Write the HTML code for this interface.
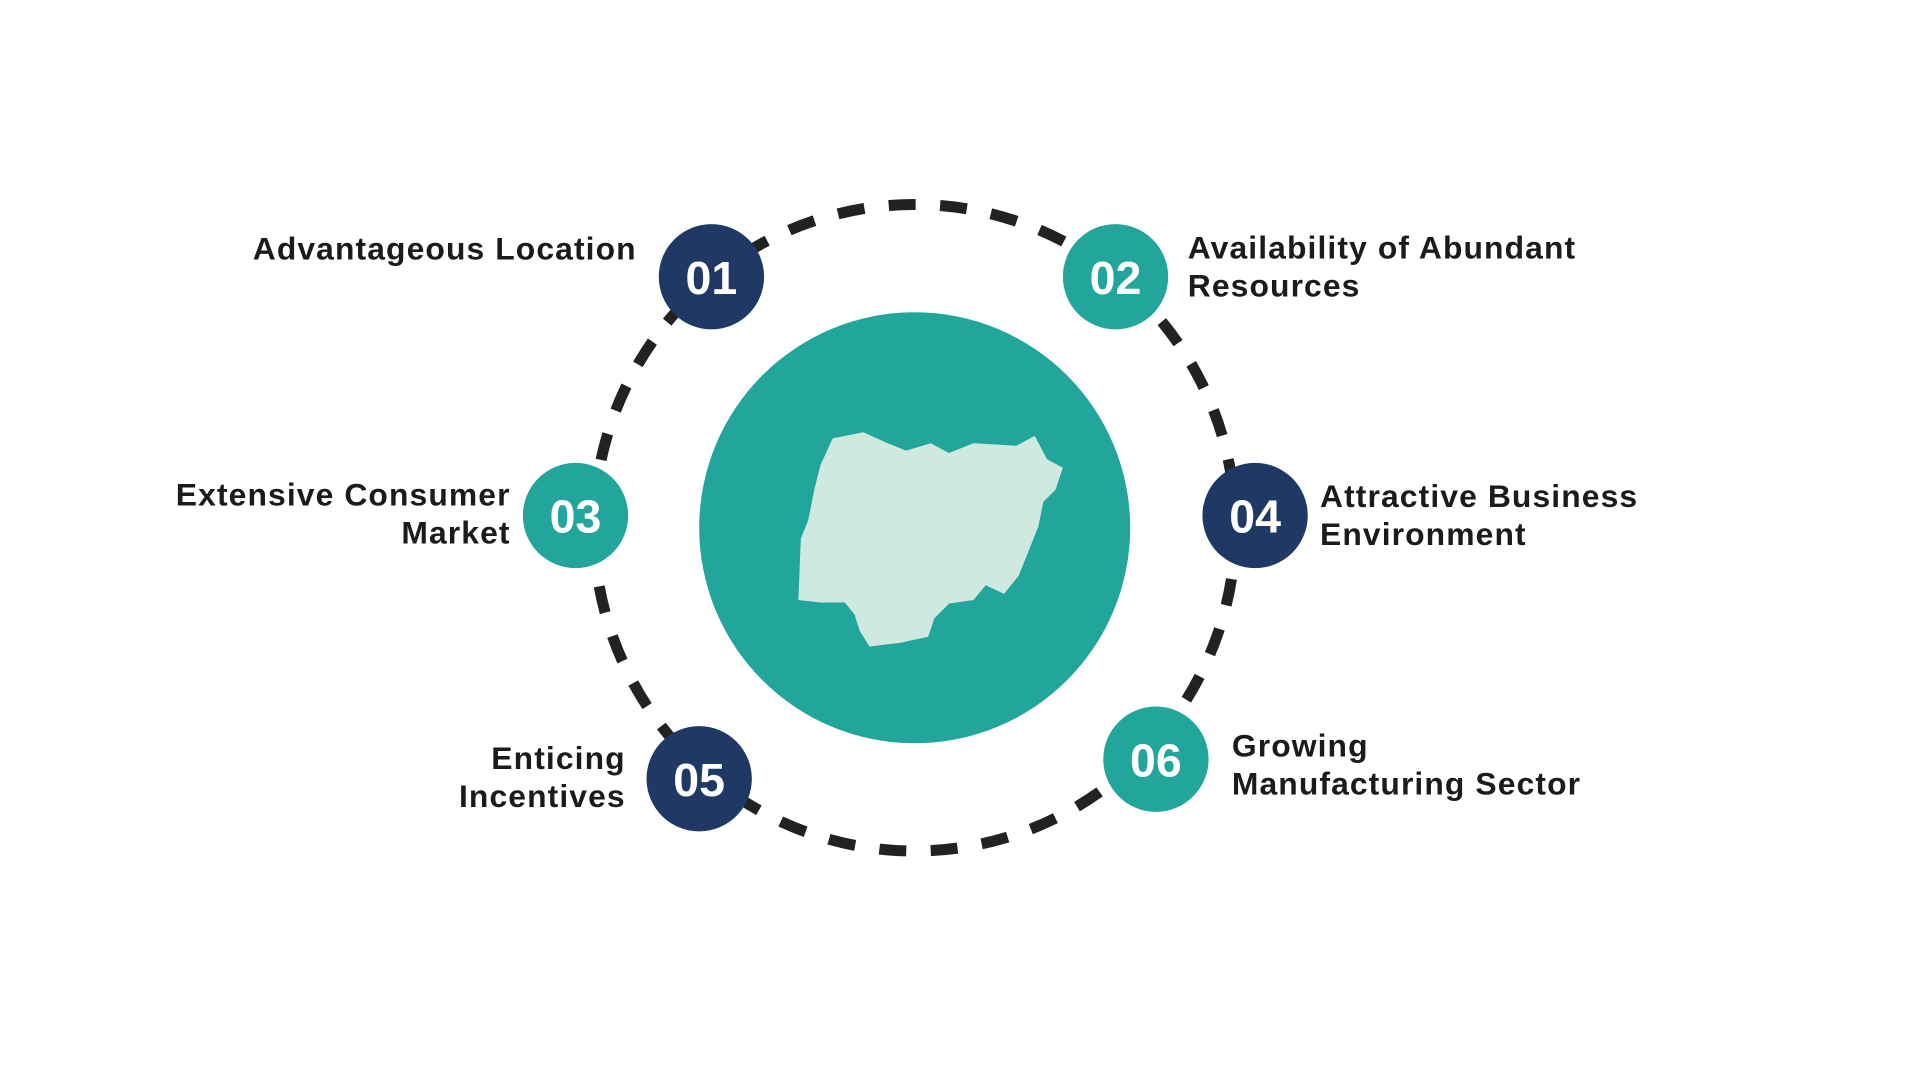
<!DOCTYPE html>
<html><head><meta charset="utf-8"><style>
html,body{margin:0;padding:0;background:#fff;width:1920px;height:1080px;overflow:hidden}
#s{position:absolute;left:0;top:0;width:1568px;height:882px;transform:scale(1.22449);transform-origin:0 0}
.t{position:absolute;font-family:"Liberation Sans",sans-serif;font-weight:bold;font-size:26px;line-height:31px;color:#1b1b1b;white-space:nowrap;letter-spacing:0.9px}
.r{text-align:right}
</style></head><body>
<div id="s">
<svg width="1568" height="882" style="position:absolute;left:0;top:0">
<ellipse cx="747" cy="431" rx="262" ry="264" fill="none" stroke="#222" stroke-width="9" stroke-dasharray="22 20"/>
<circle cx="747" cy="431" r="176" fill="#22a59b"/>
<polygon fill="#cfe9e1" points="680,358 705,353 725,362 740,368 760,362 775,370 795,362 830,364 845,356 855,375 868,382 862,400 852,410 848,430 840,450 832,470 820,485 805,478 795,490 775,493 763,505 758,520 735,525 710,528 702,515 698,502 690,492 670,492 652,490 654,440 660,425 665,400 670,380"/>
<g font-family="Liberation Sans,sans-serif" font-weight="bold" font-size="38" fill="#fff" text-anchor="middle">
<circle cx="581" cy="226" r="43" fill="#1f3864"/><text x="581" y="240">01</text>
<circle cx="911" cy="226" r="43" fill="#22a59b"/><text x="911" y="240">02</text>
<circle cx="470" cy="421" r="43" fill="#22a59b"/><text x="470" y="435">03</text>
<circle cx="1025" cy="421" r="43" fill="#1f3864"/><text x="1025" y="435">04</text>
<circle cx="571" cy="636" r="43" fill="#1f3864"/><text x="571" y="650">05</text>
<circle cx="944" cy="620" r="43" fill="#22a59b"/><text x="944" y="634">06</text>
</g>
</svg>
<div class="t r" style="right:1048px;top:188px">Advantageous Location</div>
<div class="t" style="left:970px;top:187px">Availability of Abundant<br>Resources</div>
<div class="t r" style="right:1151px;top:389px">Extensive Consumer<br>Market</div>
<div class="t" style="left:1078px;top:390px">Attractive Business<br>Environment</div>
<div class="t r" style="right:1057px;top:604px">Enticing<br>Incentives</div>
<div class="t" style="left:1006px;top:594px">Growing<br>Manufacturing Sector</div>
</div>
</body></html>
